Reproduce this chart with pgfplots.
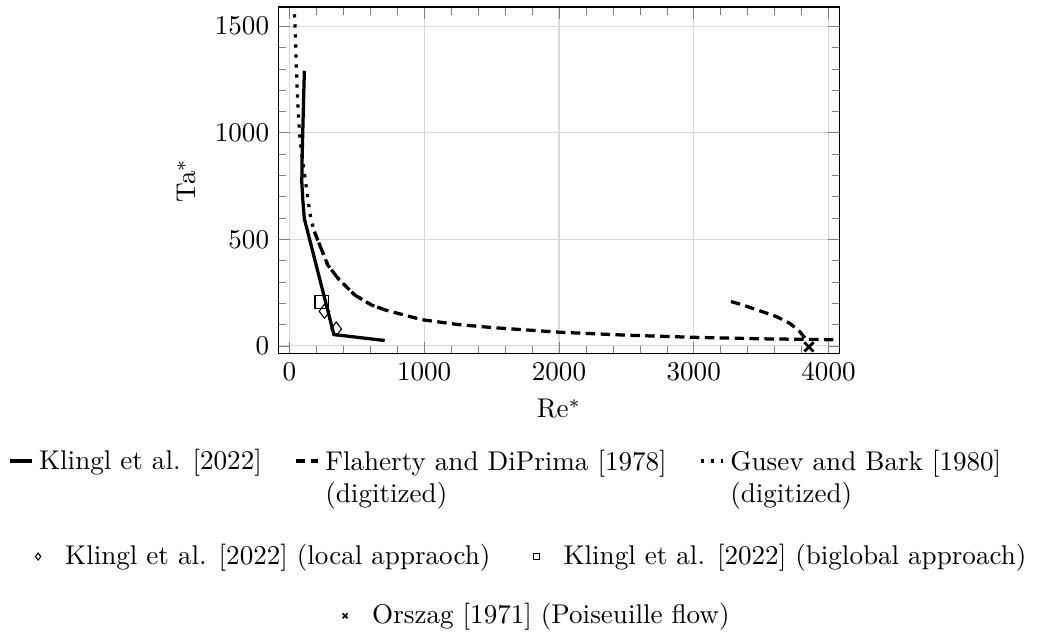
\documentclass[border=0pt]{standalone}
\usepackage{pgfplots}
\pgfplotsset{compat=1.18}

\pgfplotsset{
  lineleg/.style={legend image code/.code={\draw[##1] (0cm,0cm) -- (0.29cm,0cm);}},
  markleg/.style={legend image code/.code={%
    \pgfpathmoveto{\pgfpoint{-3pt}{0pt}}\pgfpathlineto{\pgfpoint{8pt}{0pt}}\pgfusepath{}%
    \path[##1] plot coordinates {(0pt,0pt)};}},
}
\tikzset{
  fdash/.style={line width=1.2pt, dash pattern=on 3.5pt off 2pt},
  gdot/.style={line width=1.2pt, dash pattern=on 1.2pt off 2.5pt},
}

\begin{document}
\begin{tikzpicture}
\begin{axis}[
  name=main,
  scale only axis,
  width=207pt, height=128pt,
  xmin=-80, xmax=4080,
  ymin=-37, ymax=1590,
  xtick={0,1000,2000,3000,4000},
  ytick={0,500,1000,1500},
  minor x tick num=4,
  minor y tick num=4,
  /pgf/number format/set thousands separator={},
  grid=major,
  major grid style={gray!30, line width=0.4pt},
  xlabel={Re$^*$},
  ylabel={Ta$^*$},
  lineleg,
  legend columns=3,
  legend cell align=left,
  legend style={draw=none, at={(0.408,-0.238)}, anchor=north,
    /tikz/every even column/.append style={column sep=10pt}},
]
% Klingl et al. 2022
\addplot[black, line width=1.2pt] coordinates {
  (111,1291) (105,1150) (99,1000) (94,870) (92,767) (100,680) (111,596) (330,53) (707,25)
};
\addlegendentry{Klingl et al. [2022]}
% Flaherty and DiPrima 1978
\addplot[black, fdash] coordinates {
  (186,536) (235,457) (285,379) (360,317) (484,239) (608,192) (707,169) (980,123)
  (1250,100) (1500,86) (2000,64) (2500,50) (3000,40) (3500,33) (4000,29) (4100,28)
};
\addlegendentry{\begin{tabular}[t]{@{}l@{}}Flaherty and DiPrima [1978]\\(digitized)\end{tabular}}
\addplot[black, fdash, forget plot] coordinates {
  (3276,208) (3363,192) (3487,165) (3611,138) (3710,107) (3785,68) (3835,29)
};
% Gusev and Bark 1980
\addplot[black, gdot] coordinates {
  (30,1650) (42,1500) (52,1300) (61,1150) (75,1000) (95,880) (112,806) (141,674)
  (161,588) (191,527) (235,457) (285,379) (360,317) (484,239) (608,192) (707,169)
};
\addlegendentry{\begin{tabular}[t]{@{}l@{}}Gusev and Bark [1980]\\(digitized)\end{tabular}}
% markers
\addplot[black, only marks, mark=diamond, mark size=2.6pt, forget plot] coordinates {
  (260,162) (347,79)
};
\addplot[black, only marks, mark=square, mark size=2.5pt, forget plot] coordinates {
  (240,205)
};
\addplot[black, only marks, mark=x, mark size=2.4pt, line width=1pt, forget plot] coordinates {
  (3855,-5)
};
\end{axis}
\path ([yshift=2.6pt]main.north);

\begin{axis}[
  at={(main.south west)}, anchor=south west,
  scale only axis, width=207pt, height=128pt,
  hide axis, xmin=0, xmax=1, ymin=0, ymax=1,
  markleg,
  legend columns=2,
  legend style={draw=none, fill=none, at={(0.45,-0.585)}, anchor=center,
    /tikz/every even column/.append style={column sep=12pt}},
]
\addlegendimage{black, mark=diamond, mark size=1.3pt}
\addlegendentry{Klingl et al. [2022] (local appraoch)}
\addlegendimage{black, mark=square, mark size=1.1pt}
\addlegendentry{Klingl et al. [2022] (biglobal approach)}
\end{axis}

\begin{axis}[
  at={(main.south west)}, anchor=south west,
  scale only axis, width=207pt, height=128pt,
  hide axis, xmin=0, xmax=1, ymin=0, ymax=1,
  markleg,
  legend style={draw=none, fill=none, at={(0.459,-0.756)}, anchor=center},
]
\addlegendimage{black, mark=x, mark size=1.3pt, line width=0.6pt}
\addlegendentry{Orszag [1971] (Poiseuille flow)}
\end{axis}
\end{tikzpicture}
\end{document}
